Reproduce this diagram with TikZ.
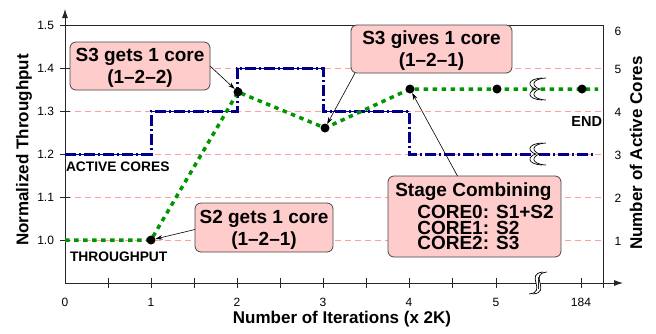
\documentclass[tikz,border=0pt]{standalone}
\usepackage{fontspec}
\setmainfont{Liberation Sans}
\usetikzlibrary{arrows.meta}
\definecolor{navy}{RGB}{0,0,140}
\definecolor{thrgreen}{RGB}{0,150,0}
\definecolor{gridred}{RGB}{255,160,160}
\definecolor{boxpink}{RGB}{255,204,204}
\definecolor{boxgray}{RGB}{70,70,70}
\begin{document}
\begin{tikzpicture}[x=1pt,y=-1pt,
  every node/.style={inner sep=0pt, outer sep=0pt},
  gridline/.style={draw=gridred, line width=0.6pt, dash pattern=on 6pt off 4pt},
  axisline/.style={line width=0.8pt, draw=black!85},
  tickmark/.style={line width=0.8pt, draw=black!85},
  ticklab/.style={font=\fontsize{12}{14}\selectfont},
  cores/.style={draw=navy, line width=3pt, dash pattern=on 11pt off 3pt on 2pt off 3pt},
  thr/.style={draw=thrgreen, line width=3.5pt, dash pattern=on 4.5pt off 4.5pt},
  dotn/.style={circle, fill=black, minimum size=9pt},
  callout/.style={draw=boxgray, fill=boxpink, rounded corners=6pt, line width=0.8pt,
    font=\fontsize{19}{22}\selectfont\bfseries, align=center},
  pointer/.style={-{Stealth[length=7pt,width=4.5pt]}, line width=0.6pt},
  tag/.style={font=\fontsize{13.8}{16}\selectfont\bfseries},
  axtitle/.style={font=\fontsize{17}{20}\selectfont\bfseries},
  brk/.pic={
    \fill[white] (7,-11) .. controls (-9,-10) and (-7,-2) .. (1,0) .. controls (-7,2) and (-9,10) .. (7,11)
      -- (11,11) .. controls (-5,10) and (-3,2) .. (5,0) .. controls (-3,-2) and (-5,-10) .. (11,-11) -- cycle;
    \draw[line width=0.7pt] (7,-11) .. controls (-9,-10) and (-7,-2) .. (1,0) .. controls (-7,2) and (-9,10) .. (7,11);
    \draw[line width=0.7pt] (11,-11) .. controls (-5,-10) and (-3,-2) .. (5,0) .. controls (-3,2) and (-5,10) .. (11,11);
  },
  brkS/.pic={
    \fill[white] (7,-11) .. controls (-12,-9) and (12,9) .. (-7,11) -- (-3,11) .. controls (16,9) and (-8,-9) .. (11,-11) -- cycle;
    \draw[line width=0.7pt] (7,-11) .. controls (-12,-9) and (12,9) .. (-7,11);
    \draw[line width=0.7pt] (11,-11) .. controls (-8,-9) and (16,9) .. (-3,11);
  }
]
\useasboundingbox (0,0) rectangle (656,333);

% grid
\foreach \y in {68,111,154,197,240} \draw[gridline] (65,\y) -- (603,\y);

% frame and axes
\coordinate (O) at (65,283);
\coordinate (ytop) at (65,9);
\coordinate (xend) at (623,283);
\coordinate (tl) at (65,25);
\coordinate (tr) at (603,25);
\coordinate (rb) at (603,288);
\draw[axisline] (tl) -- (tr) -- (rb);
\draw[axisline, -{Latex[length=9pt,width=6pt]}] (O) -- (ytop);
\draw[axisline, -{Latex[length=9pt,width=6pt]}] (O) -- (xend);

% y ticks and labels
\foreach \y/\l [count=\i] in {25/1.5,68/1.4,111/1.3,154/1.2,197/1.1,240/1.0} {
  \draw[tickmark] (60,\y) -- (70,\y);
  \node[ticklab, anchor=east] (yl\i) at (54,\y) {\l};
}
% right labels
\foreach \y/\l in {31/6,69/5,112/4,155/3,198/2,241/1} {
  \node[ticklab] (rl\l) at (618,\y) {\l};
}
% x ticks
\foreach \x in {108,151,194,237,280,323,366,409,452,496,581} \draw[tickmark] (\x,278) -- (\x,288);
\foreach \x/\l in {65/0,151/1,237/2,323/3,409/4,496/5,581/184} {
  \node[ticklab] (xl\l) at (\x,302) {\l};
}

% active cores (blue)
\draw[navy, line width=0.6pt] (65,154) -- (151,154) (151,111) -- (237,111) (237,68) -- (323,68) (323,111) -- (409,111);
\draw[cores] (65,154) -| (151,111) -| (237,68) -| (323,111) -| (409,154) -- (593,154);

% throughput (green)
\draw[thr] (65,240) -- (151,240) -- (238,92) -- (325,128) -- (410,89) -- (598,89);

% data points
\node[dotn] (d1) at (151,240) {};
\node[dotn] (d2) at (238,92) {};
\node[dotn] (d3) at (325,128) {};
\node[dotn] (d4) at (410,89) {};
\node[dotn] (d5) at (497,89) {};
\node[dotn] (d6) at (582,89) {};

% break marks
\pic at (535,89) {brk};
\pic at (535,154) {brk};
\pic at (536,283) {brkS};
\draw[tickmark] (538,277) -- (538,289);

% callouts
\node[callout, minimum width=140pt, minimum height=48pt] (c1) at (140,66) {\rule{0pt}{17pt}S3 gets 1 core\\(1--2--2)};
\node[callout, minimum width=161pt, minimum height=48pt] (c2) at (431.5,49) {\rule{0pt}{17pt}S3 gives 1 core\\(1--2--1)};
\node[callout, minimum width=138pt, minimum height=49pt] (c3) at (264,227.5) {\rule{0pt}{17pt}S2 gets 1 core\\(1--2--1)};
\node[callout, minimum width=173pt, minimum height=81pt, align=left,
  font=\fontsize{19}{15.5}\selectfont\bfseries] (c4) at (474.5,216.5)
  {Stage Combining\\[4pt]\hspace*{22pt}CORE0: S1+S2\\\hspace*{22pt}CORE1: S2\\\hspace*{22pt}CORE2: S3};

\draw[pointer] (c1.east) -- (d2);
\draw[pointer] ([xshift=4pt]c2.south west) -- (d3);
\draw[pointer] ([yshift=-2pt]c3.west) -- (d1);
\draw[pointer] ([xshift=-17pt]c4.north) -- (d4);

% tags
\node[tag, anchor=west] (lac) at (66,167) {ACTIVE CORES};
\node[tag, anchor=west] (lth) at (70,257) {THROUGHPUT};
\node[tag, anchor=east, font=\fontsize{14.5}{16}\selectfont\bfseries] (lend) at (602,122) {END};

% axis titles
\node[axtitle, rotate=90] (ylab) at (24,150) {Normalized Throughput};
\node[axtitle, rotate=90] (y2lab) at (636,153) {Number of Active Cores};
\node[axtitle] (xlab) at (342,319) {Number of Iterations (x 2K)};
\end{tikzpicture}
\end{document}
